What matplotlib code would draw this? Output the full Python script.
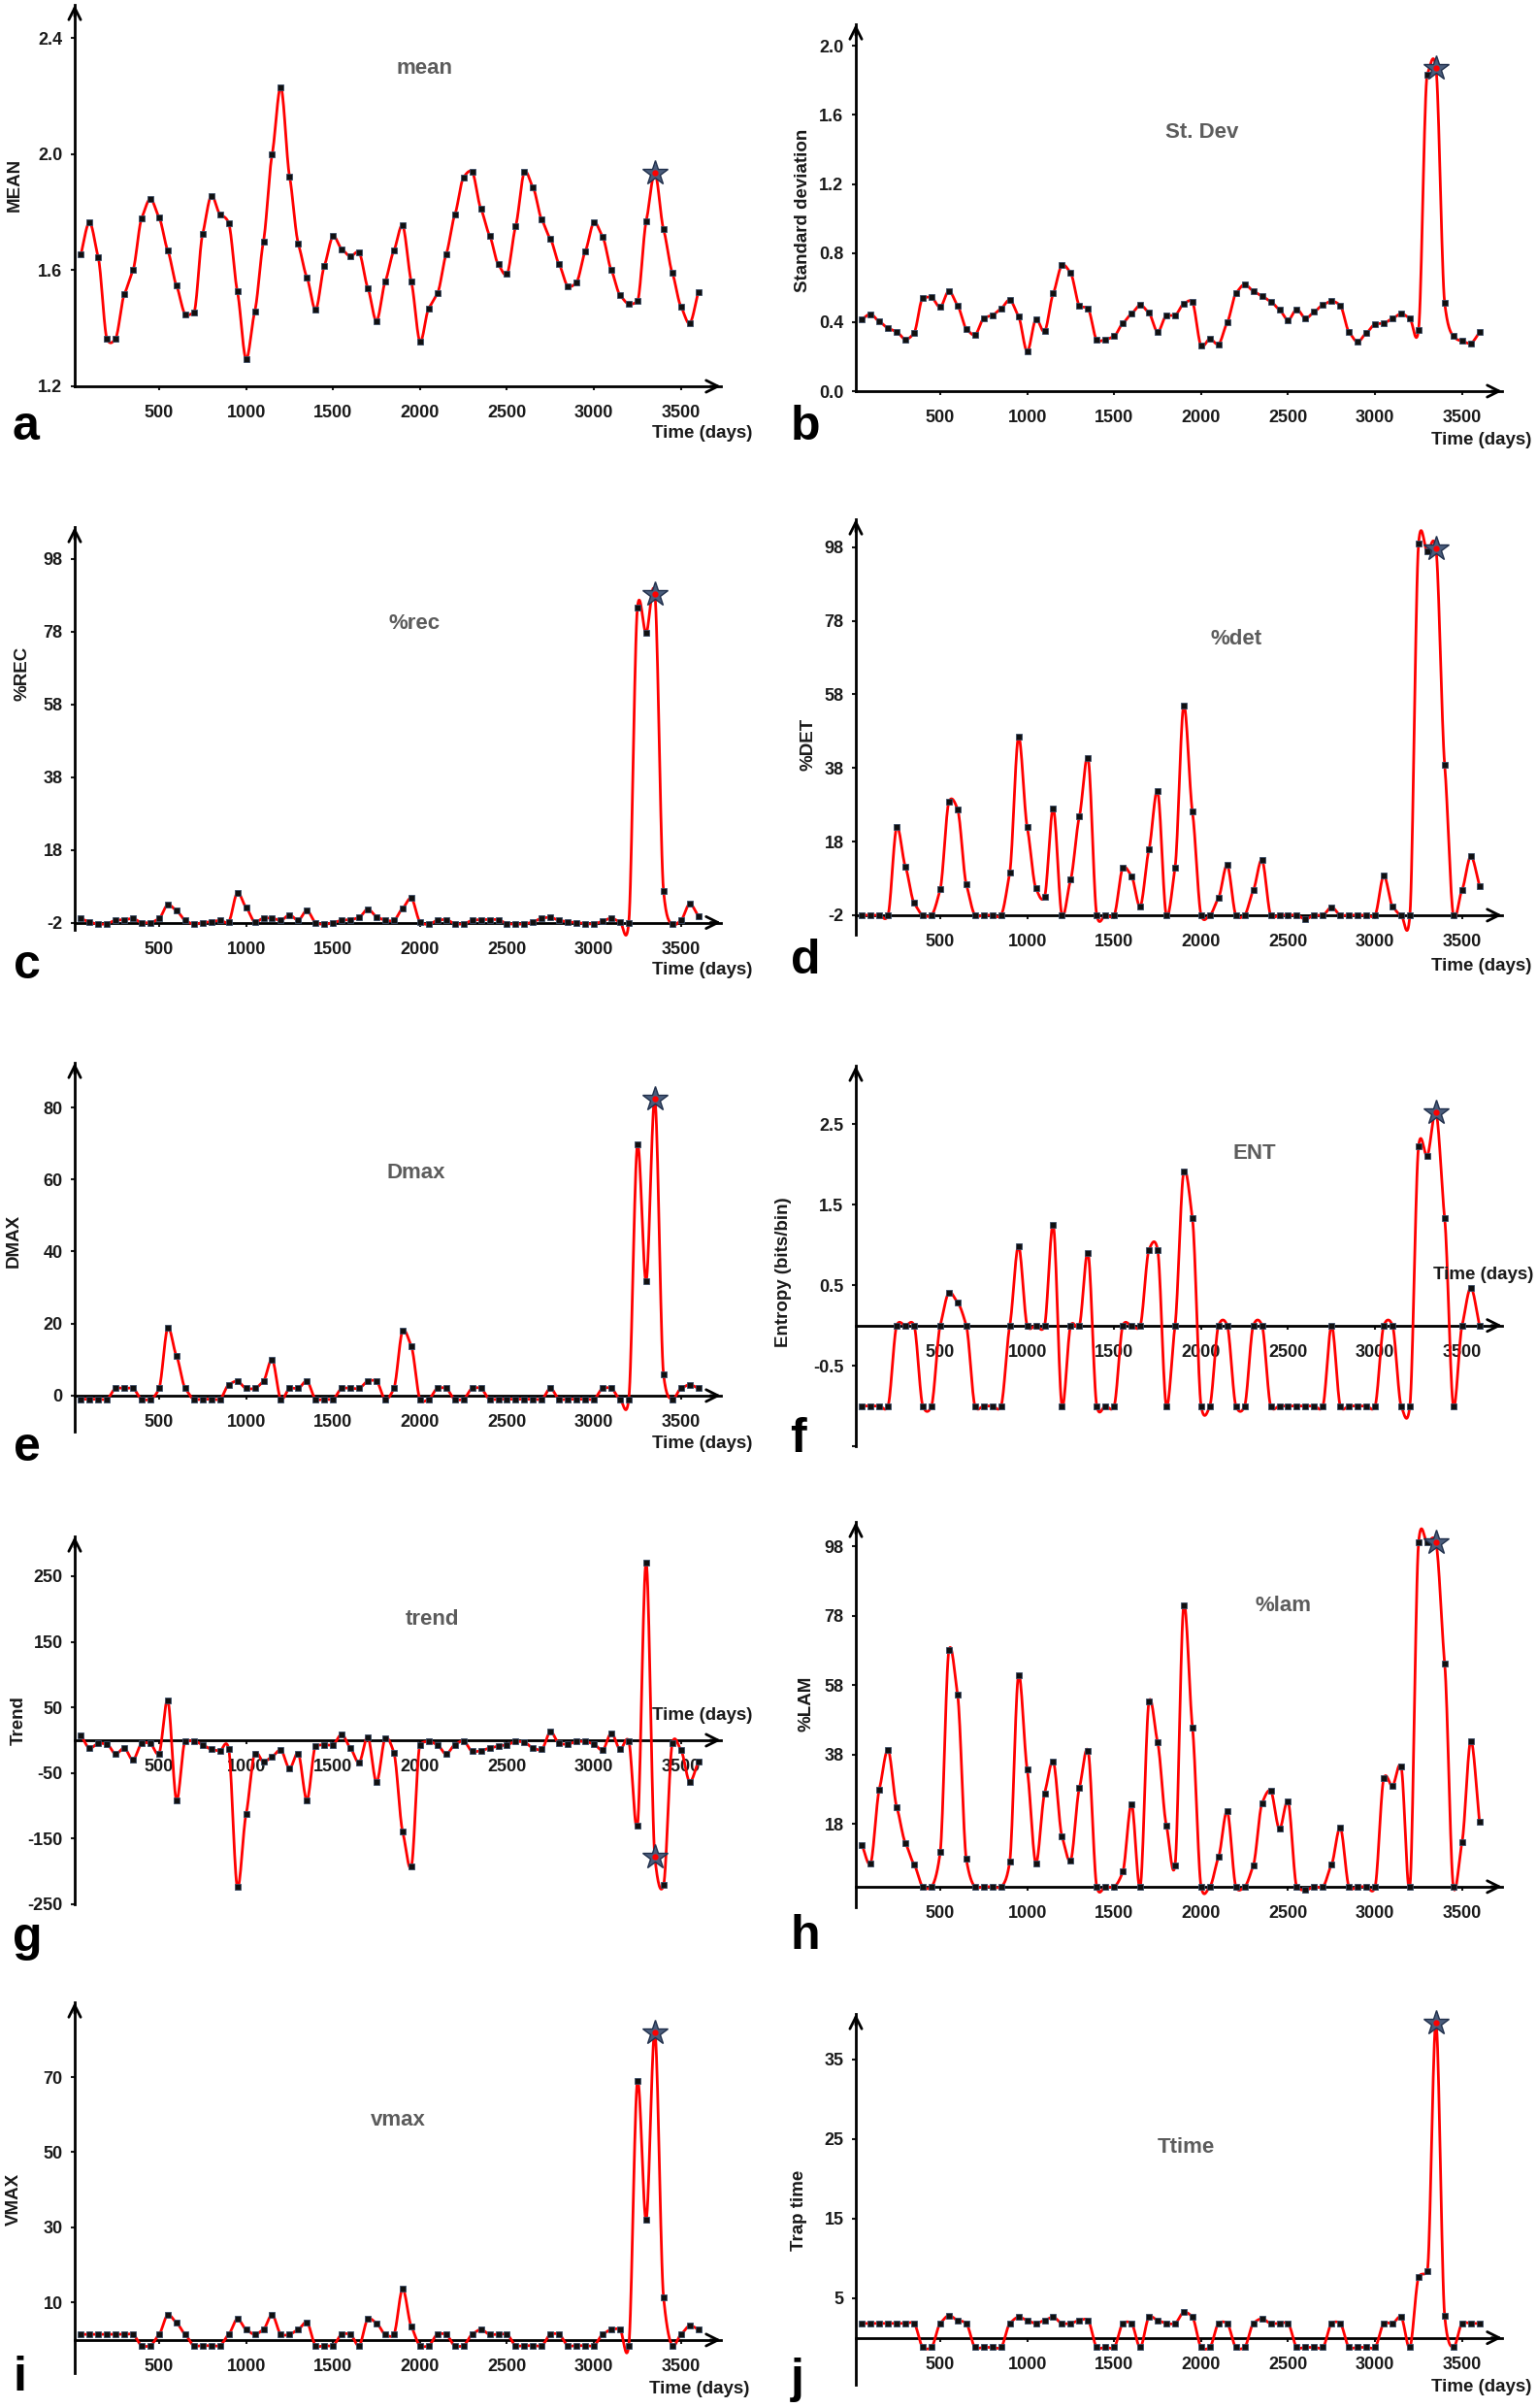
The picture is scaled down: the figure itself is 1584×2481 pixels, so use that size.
import numpy as np
import matplotlib
matplotlib.use("Agg")
import matplotlib.pyplot as plt

plt.rcParams['font.family'] = ['Liberation Sans', 'DejaVu Sans']

# ---------------- data ----------------
days = list(range(50, 3601, 50))   # sampling times (days), 72 windows
star_day = 3350

mean_vals = [1.654, 1.765, 1.645, 1.365, 1.365, 1.517, 1.60, 1.78, 1.846, 1.782,
             1.668, 1.547, 1.449, 1.455, 1.724, 1.857, 1.793, 1.763, 1.527, 1.294,
             1.458, 1.70, 2.0, 2.232, 1.924, 1.693, 1.575, 1.464, 1.615, 1.717,
             1.673, 1.648, 1.661, 1.539, 1.425, 1.561, 1.668, 1.754, 1.561, 1.354,
             1.469, 1.52, 1.654, 1.791, 1.92, 1.939, 1.812, 1.72, 1.62, 1.587,
             1.752, 1.939, 1.885, 1.774, 1.707, 1.62, 1.545, 1.559, 1.665, 1.765,
             1.715, 1.60, 1.514, 1.484, 1.494, 1.768, 1.936, 1.741, 1.592, 1.475,
             1.417, 1.525]

stdev_vals = [0.416, 0.446, 0.403, 0.365, 0.343, 0.30, 0.337, 0.539, 0.543, 0.487,
              0.58, 0.496, 0.361, 0.326, 0.421, 0.44, 0.478, 0.528, 0.434, 0.23,
              0.416, 0.346, 0.566, 0.73, 0.684, 0.496, 0.478, 0.296, 0.30, 0.318,
              0.393, 0.449, 0.498, 0.453, 0.343, 0.436, 0.44, 0.506, 0.515, 0.262,
              0.303, 0.272, 0.397, 0.567, 0.618, 0.58, 0.55, 0.519, 0.472, 0.412,
              0.474, 0.421, 0.459, 0.50, 0.521, 0.496, 0.343, 0.285, 0.337, 0.388,
              0.393, 0.421, 0.449, 0.421, 0.356, 1.835, 1.873, 0.511, 0.318, 0.29,
              0.277, 0.341]

rec_vals = [-0.9, -1.8, -2.5, -2.3, -1.4, -1.2, -0.9, -2.0, -2.0, -0.9,
            2.9, 1.3, -1.4, -2.5, -2.0, -1.8, -1.4, -1.8, 6.2, 2.2,
            -1.8, -0.8, -0.8, -1.4, 0.1, -1.4, 1.3, -2.0, -2.5, -2.0,
            -1.4, -1.2, -0.6, 1.7, -0.4, -1.4, -1.4, 1.9, 4.7, -1.8,
            -2.5, -1.4, -1.2, -2.3, -2.4, -1.4, -1.2, -1.2, -1.2, -2.3,
            -2.4, -2.4, -1.8, -0.8, -0.6, -1.4, -1.8, -2.0, -2.3, -2.4,
            -1.6, -0.8, -1.8, -2.0, 84.7, 77.6, 88.5, 6.6, -2.5, -1.4,
            3.1, -0.2]

det_vals = [-2, -2, -2, -2, 21.9, 11.2, 1.3, -2, -2, 5.0,
            28.8, 26.8, 6.4, -2, -2, -2, -2, 9.7, 46.4, 22.0,
            5.3, 3.0, 27.0, -2, 7.7, 24.8, 40.7, -2, -2, -2,
            10.9, 8.6, 0.4, 15.8, 31.7, -2, 10.9, 55.0, 26.1, -2,
            -2, 2.7, 11.6, -2, -2, 4.8, 13.0, -2, -2, -2,
            -2, -3.1, -2, -2, 0.2, -2, -2, -2, -2, -2,
            8.7, 0.4, -2, -2, 99.0, 96.8, 97.6, 38.9, -2, 4.9,
            14.0, 6.0]

dmax_vals = [-1, -1, -1, -1, 2, 2, 2, -1, -1, 2,
             18.8, 11, 2, -1, -1, -1, -1, 3, 4, 2,
             2, 4, 10, -1, 2, 2, 4, -1, -1, -1,
             2, 2, 2, 4, 4, -1, 2, 18, 13.7, -1,
             -1, 2, 2, -1, -1, 2, 2, -1, -1, -1,
             -1, -1, -1, -1, 2, -1, -1, -1, -1, -1,
             2, 2, -1, -1, 69.7, 31.8, 82.3, 5.8, -1, 2,
             3, 2]

ent_vals = [-1, -1, -1, -1, 0, 0, 0, -1, -1, 0,
            0.41, 0.285, 0, -1, -1, -1, -1, 0, 0.99, 0,
            0, 0, 1.25, -1, 0, 0, 0.9, -1, -1, -1,
            0, 0, 0, 0.94, 0.94, -1, 0, 1.91, 1.33, -1,
            -1, 0, 0, -1, -1, 0, 0, -1, -1, -1,
            -1, -1, -1, -1, 0, -1, -1, -1, -1, -1,
            0, 0, -1, -1, 2.23, 2.11, 2.65, 1.33, -1, 0,
            0.47, 0]

trend_vals = [8, -12, -5, -6, -21, -12, -30, -5, -5, -20,
              61, -91, -2, -1, -7, -14, -16, -13, -224, -113,
              -20, -33, -25, -15, -43, -20, -91, -9, -7, -7,
              9, -12, -34, 5, -64, 3, -19, -139, -193, -7,
              -2, -7, -21, -7, -1, -17, -16, -12, -9, -7,
              -2, -3, -12, -14, 13, -5, -6, -2, -2, -6,
              -15, 11, -14, -1, -130, 271, -178, -221, -5, -15,
              -63, -32]

lam_vals = [12, 6.8, 28, 39.4, 23, 12.6, 6.4, 0, 0, 9.9,
            68, 55.2, 8, 0, 0, 0, 0, 7.3, 60.8, 33.8,
            6.8, 26.8, 36, 14.5, 7.6, 28.4, 39.2, 0, 0, 0,
            4.3, 23.8, 0, 53.2, 41.5, 17.7, 6.1, 81, 45.9, 0,
            0, 8.5, 21.7, 0, 0, 6.1, 24, 27.6, 16.6, 24.5,
            0, -1, 0, 0, 6.4, 17, 0, 0, 0, 0,
            31.2, 29, 34.5, 0, 99, 99, 99, 64.2, 0, 12.9,
            42, 18.7]

vmax_vals = [1.5, 1.5, 1.5, 1.5, 1.5, 1.5, 1.5, -1.5, -1.5, 1.5,
             6.7, 4.6, 1.5, -1.5, -1.5, -1.5, -1.5, 1.5, 5.6, 2.8,
             1.5, 2.8, 6.7, 1.5, 1.5, 2.8, 4.7, -1.5, -1.5, -1.5,
             1.5, 1.5, -1.5, 5.6, 4.5, 1.5, 1.5, 13.6, 3.6, -1.5,
             -1.5, 1.5, 1.5, -1.5, -1.5, 1.5, 2.8, 1.5, 1.5, 1.5,
             -1.5, -1.5, -1.5, -1.5, 1.5, 1.5, -1.5, -1.5, -1.5, -1.5,
             1.5, 2.8, 2.8, -1.5, 69, 32, 82, 11.3, -1.5, 1.5,
             3.8, 2.8]

ttime_vals = [1.8, 1.8, 1.8, 1.8, 1.8, 1.8, 1.8, -1.2, -1.2, 1.8,
              2.8, 2.2, 1.8, -1.2, -1.2, -1.2, -1.2, 1.8, 2.6, 2.2,
              1.8, 2.2, 2.6, 1.8, 1.8, 2.2, 2.2, -1.2, -1.2, -1.2,
              1.8, 1.8, -1.2, 2.6, 2.2, 1.8, 1.8, 3.2, 2.6, -1.2,
              -1.2, 1.8, 1.8, -1.2, -1.2, 1.8, 2.4, 1.8, 1.8, 1.8,
              -1.2, -1.2, -1.2, -1.2, 1.8, 1.8, -1.2, -1.2, -1.2, -1.2,
              1.8, 1.8, 2.6, -1.2, 7.6, 8.4, 39.6, 2.75, -1.2, 1.8,
              1.8, 1.8]

x_ticks = [500, 1000, 1500, 2000, 2500, 3000, 3500]
x_ticklabels = ['500', '1000', '1500', '2000', '2500', '3000', '3500']

# ---------------- helpers ----------------
W, H = 1584, 2481


def smooth_curve(x, y, per=16, c=0.55):
    """Cardinal cubic curve through the data points, with tangents limited
    on monotone stretches so that big jumps do not ring."""
    x = np.asarray(x, float)
    y = np.asarray(y, float)
    n = len(x)
    h = np.diff(x)
    d = np.diff(y) / h
    m = np.zeros(n)
    for k in range(1, n - 1):
        cr = c * (y[k + 1] - y[k - 1]) / (x[k + 1] - x[k - 1])
        if d[k - 1] * d[k] > 0:
            lim = 3 * min(abs(d[k - 1]), abs(d[k]))
            m[k] = np.sign(cr) * min(abs(cr), lim)
        else:
            m[k] = cr
    m[0] = d[0]
    m[-1] = d[-1]
    xs, ys = [], []
    for i in range(n - 1):
        t = np.linspace(0, 1, per, endpoint=False)
        h00 = 2 * t ** 3 - 3 * t ** 2 + 1
        h10 = t ** 3 - 2 * t ** 2 + t
        h01 = -2 * t ** 3 + 3 * t ** 2
        h11 = t ** 3 - t ** 2
        xs.append(x[i] + t * h[i])
        ys.append(h00 * y[i] + h10 * h[i] * m[i] + h01 * y[i + 1] + h11 * h[i] * m[i + 1])
    xs.append([x[-1]])
    ys.append([y[-1]])
    return np.concatenate(xs), np.concatenate(ys)


LEFT = (77, 743)
RIGHT = (882, 1548)
XLIM = (15, 3730)

panels = [
    dict(vals=mean_vals, box=LEFT, top=5, bottom=398, ylim=(1.2, 2.515), y0=1.2,
         yt=[1.2, 1.6, 2.0, 2.4], ytl=['1.2', '1.6', '2.0', '2.4'],
         ylabel='MEAN', ylab_pos=(15, 190), title='mean', title_pos=(437, 71),
         letter='a', letter_pos=(26, 440), time_pos=(775, 447)),
    dict(vals=stdev_vals, box=RIGHT, top=25, bottom=403, ylim=(0, 2.125), y0=0,
         yt=[0.0, 0.4, 0.8, 1.2, 1.6, 2.0], ytl=['0.0', '0.4', '0.8', '1.2', '1.6', '2.0'],
         ylabel='Standard deviation', ylab_pos=(828, 217), title='St. Dev', title_pos=(1239, 136),
         letter='b', letter_pos=(830, 440), time_pos=(1578, 453)),
    dict(vals=rec_vals, box=LEFT, top=543, bottom=958, ylim=(-4, 106.8), y0=-2,
         yt=[-2, 18, 38, 58, 78, 98], ytl=['-2', '18', '38', '58', '78', '98'],
         ylabel='%REC', ylab_pos=(23, 694), title='%rec', title_pos=(427, 643),
         letter='c', letter_pos=(28, 995), time_pos=(775, 1000)),
    dict(vals=det_vals, box=RIGHT, top=535, bottom=963, ylim=(-7.3, 105.6), y0=-2,
         yt=[-2, 18, 38, 58, 78, 98], ytl=['-2', '18', '38', '58', '78', '98'],
         ylabel='%DET', ylab_pos=(833, 767), title='%det', title_pos=(1274, 658),
         letter='d', letter_pos=(830, 990), time_pos=(1578, 995)),
    dict(vals=dmax_vals, box=LEFT, top=1095, bottom=1475, ylim=(-10, 92.4), y0=0,
         yt=[0, 20, 40, 60, 80], ytl=['0', '20', '40', '60', '80'],
         ylabel='DMAX', ylab_pos=(14, 1278), title='Dmax', title_pos=(429, 1208),
         letter='e', letter_pos=(28, 1492), time_pos=(775, 1487)),
    dict(vals=ent_vals, box=RIGHT, top=1098, bottom=1490, ylim=(-1.5, 3.23), y0=0,
         yt=[-1.5, -0.5, 0.5, 1.5, 2.5], ytl=['', '-0.5', '0.5', '1.5', '2.5'],
         ylabel='Entropy (bits/bin)', ylab_pos=(808, 1311), title='ENT', title_pos=(1293, 1189),
         letter='f', letter_pos=(822, 1483), time_pos=(1580, 1313)),
    dict(vals=trend_vals, box=LEFT, top=1583, bottom=1962, ylim=(-250, 310.6), y0=0,
         yt=[-250, -150, -50, 50, 150, 250], ytl=['-250', '-150', '-50', '50', '150', '250'],
         ylabel='Trend', ylab_pos=(19, 1773), title='trend', title_pos=(445, 1669),
         letter='g', letter_pos=(28, 1997), time_pos=(775, 1768)),
    dict(vals=lam_vals, box=RIGHT, top=1568, bottom=1965, ylim=(-5.9, 105), y0=0,
         yt=[18, 38, 58, 78, 98], ytl=['18', '38', '58', '78', '98'],
         ylabel='%LAM', ylab_pos=(831, 1755), title='%lam', title_pos=(1322, 1654),
         letter='h', letter_pos=(830, 1995), time_pos=None),
    dict(vals=vmax_vals, box=LEFT, top=2063, bottom=2445, ylim=(-8.8, 89.9), y0=0,
         yt=[10, 30, 50, 70], ytl=['10', '30', '50', '70'],
         ylabel='VMAX', ylab_pos=(14, 2266), title='vmax', title_pos=(410, 2184),
         letter='i', letter_pos=(20, 2450), time_pos=(772, 2462)),
    dict(vals=ttime_vals, box=RIGHT, top=2075, bottom=2457, ylim=(-5.9, 40.7), y0=0,
         yt=[5, 15, 25, 35], ytl=['5', '15', '25', '35'],
         ylabel='Trap time', ylab_pos=(823, 2277), title='Ttime', title_pos=(1222, 2212),
         letter='j', letter_pos=(822, 2452), time_pos=(1578, 2460)),
]

fig = plt.figure(figsize=(W / 100, H / 100), dpi=100)
fig.patch.set_facecolor('white')

AX_LW = 2.0
TXT = '#1a1a1a'

for p in panels:
    l, r = p['box']
    ax = fig.add_axes([l / W, 1 - p['bottom'] / H, (r - l) / W, (p['bottom'] - p['top']) / H])
    ax.set_xlim(*XLIM)
    ax.set_ylim(*p['ylim'])
    ax.patch.set_alpha(0)
    for s in ['top', 'right']:
        ax.spines[s].set_visible(False)
    ax.spines['left'].set_linewidth(AX_LW)
    ax.spines['bottom'].set_linewidth(AX_LW)
    ax.spines['bottom'].set_position(('data', p['y0']))

    ax.set_xticks(x_ticks)
    ax.set_xticklabels(x_ticklabels)
    ax.set_yticks(p['yt'])
    ax.set_yticklabels(p['ytl'])
    ax.tick_params(axis='x', direction='out', length=3, width=1.5, pad=11,
                   labelsize=13, colors=TXT)
    ax.tick_params(axis='y', direction='out', length=3, width=1.5, pad=6,
                   labelsize=13, colors=TXT)
    for lab in ax.get_xticklabels() + ax.get_yticklabels():
        lab.set_fontweight('bold')

    # arrow heads
    ax.annotate('', xy=(XLIM[1], p['y0']), xytext=(XLIM[1] - 60, p['y0']),
                arrowprops=dict(arrowstyle='->', lw=AX_LW, color='black',
                                shrinkA=0, shrinkB=0, mutation_scale=22),
                annotation_clip=False)
    ax.annotate('', xy=(XLIM[0], p['ylim'][1]),
                xytext=(XLIM[0], p['ylim'][1] - 0.03 * (p['ylim'][1] - p['ylim'][0])),
                arrowprops=dict(arrowstyle='->', lw=AX_LW, color='black',
                                shrinkA=0, shrinkB=0, mutation_scale=22),
                annotation_clip=False)

    # smooth curve + points
    xs, ys = smooth_curve(days, p['vals'])
    ax.plot(xs, ys, color='#ff0000', lw=2.0, zorder=3, clip_on=False, solid_capstyle='round')
    pts_x = [d for d in days if d != star_day]
    pts_y = [v for d, v in zip(days, p['vals']) if d != star_day]
    ax.plot(pts_x, pts_y, linestyle='none', marker='s', ms=4.4, mfc='#101010',
            mec='#3b4c66', mew=0.6, zorder=4, clip_on=False)
    sv = p['vals'][days.index(star_day)]
    ax.plot([star_day], [sv], linestyle='none', marker='*', ms=19, mfc='#4a5d7c',
            mec='#22314d', mew=1.0, zorder=5, clip_on=False)
    ax.plot([star_day], [sv], linestyle='none', marker='o', ms=3.5, mfc='#ff0000',
            mec='#ff0000', zorder=6, clip_on=False)

    # texts
    fig.text(p['title_pos'][0] / W, 1 - p['title_pos'][1] / H, p['title'],
             ha='center', va='center', fontsize=16, fontweight='bold', color='#5c5c5c')
    fig.text(p['ylab_pos'][0] / W, 1 - p['ylab_pos'][1] / H, p['ylabel'],
             ha='center', va='center', rotation=90, fontsize=13.5,
             fontweight='bold', color=TXT)
    fig.text(p['letter_pos'][0] / W, 1 - p['letter_pos'][1] / H, p['letter'],
             ha='center', va='center', fontsize=36, fontweight='bold', color='black')
    if p['time_pos'] is not None:
        fig.text(p['time_pos'][0] / W, 1 - p['time_pos'][1] / H, 'Time (days)',
                 ha='right', va='center', fontsize=13.5, fontweight='bold', color=TXT)

fig.savefig('out.png', dpi=100, facecolor='white')
